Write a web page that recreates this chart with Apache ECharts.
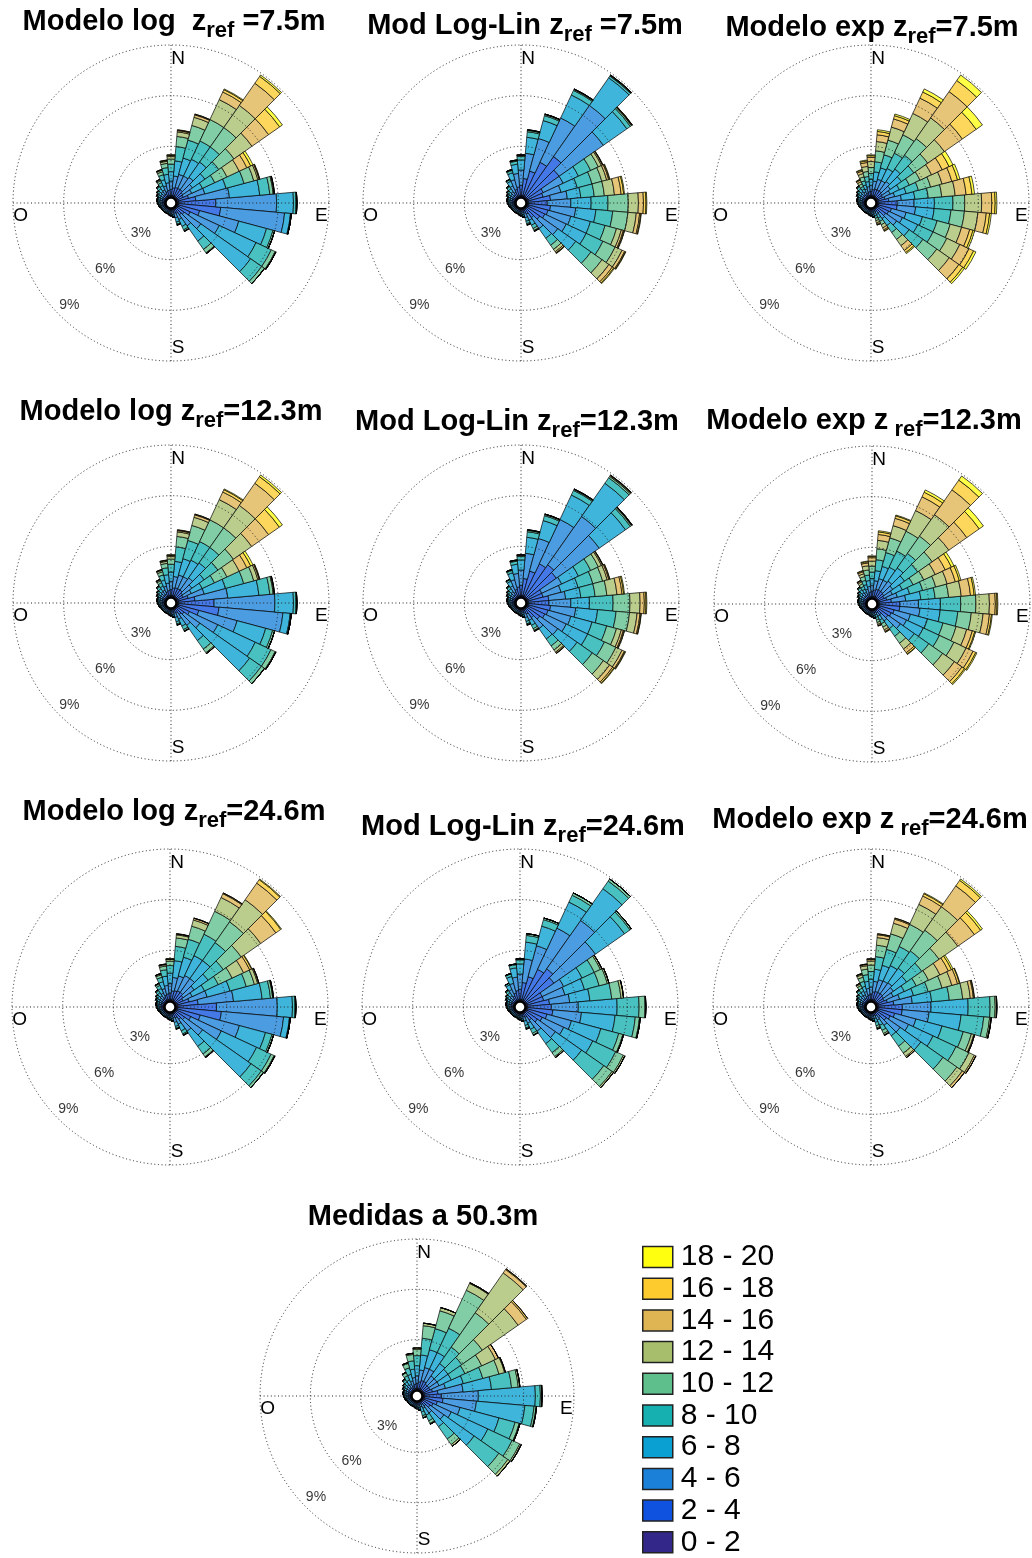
<!DOCTYPE html>
<html>
<head>
<meta charset="utf-8">
<script src="https://cdn.jsdelivr.net/npm/echarts@6/dist/echarts.min.js"></script>
<style>
  html, body { margin: 0; padding: 0; background: #fff; }
  #chart { width: 1032px; height: 1558px; }
</style>
</head>
<body>
<div id="chart"></div>
<script>
// 36 sectors of 10 deg, clockwise from N
const directions = ['0','10','20','30','40','50','60','70','80','90','100','110','120','130','140','150','160','170',
  '180','190','200','210','220','230','240','250','260','270','280','290','300','310','320','330','340','350'];
const speedBins = ['0 - 2','2 - 4','4 - 6','6 - 8','8 - 10','10 - 12','12 - 14','14 - 16','16 - 18','18 - 20'];
const ringTicks = [3, 6, 9];
const compassNames = { 0: 'N', 90: 'E', 180: 'S', 270: 'O' };

// sectors 170..320 deg: tiny calm bars, alike in all roses (% per speed bin)
const lightSectors = [
  [0.08,0.12,0.14,0.1,0.05,0.01],
  [0.07,0.1,0.11,0.08,0.03,0.01],
  [0.07,0.09,0.09,0.06,0.03,0.01],
  [0.06,0.08,0.08,0.05,0.03],
  [0.06,0.08,0.08,0.05,0.03],
  [0.06,0.08,0.08,0.05,0.03],
  [0.06,0.08,0.08,0.05,0.03],
  [0.06,0.08,0.08,0.05,0.03],
  [0.07,0.09,0.09,0.06,0.03,0.01],
  [0.07,0.1,0.11,0.08,0.03,0.01],
  [0.07,0.11,0.12,0.09,0.04,0.02],
  [0.07,0.12,0.13,0.1,0.05,0.03],
  [0.07,0.12,0.13,0.1,0.05,0.03],
  [0.07,0.13,0.16,0.13,0.07,0.03,0.01],
  [0.07,0.14,0.18,0.16,0.1,0.04,0.01],
  [0.08,0.17,0.22,0.21,0.14,0.06,0.02]
];

// rows for 330,340,350,0,10,...,160 deg ; each row = % per speed bin (0-2 ... 18-20)
const logRef75 = [
  [0.08,0.18,0.25,0.27,0.2,0.12,0.06,0.03,0.01],
  [0.1,0.25,0.35,0.38,0.3,0.18,0.09,0.03,0.02],
  [0.1,0.3,0.45,0.5,0.4,0.25,0.12,0.05,0.02,0.01],
  [0.1,0.35,0.5,0.55,0.45,0.3,0.15,0.06,0.03,0.01],
  [0.1,0.45,0.7,0.9,0.85,0.6,0.27,0.08,0.03,0.02],
  [0.1,0.5,0.8,1.0,1.1,0.9,0.5,0.15,0.04,0.01],
  [0.1,0.5,0.8,1.1,1.2,1.4,1.3,0.5,0.15,0.05],
  [0.1,0.5,0.9,1.1,1.1,1.4,1.6,1.6,0.5,0.1],
  [0.1,0.4,0.7,0.9,1.0,1.1,1.3,1.2,0.8,0.2],
  [0.1,0.35,0.55,0.7,0.8,0.8,0.8,0.5,0.25,0.15],
  [0.12,0.6,1.0,1.3,1.1,0.6,0.25,0.08,0.03,0.02],
  [0.12,1.0,2.0,1.8,0.6,0.2,0.05,0.02,0.01],
  [0.1,2.2,3.6,1.0,0.15,0.05],
  [0.1,2.5,3.8,0.35,0.05],
  [0.1,1.3,2.4,1.7,0.4,0.1],
  [0.1,0.8,1.9,2.4,1.0,0.25,0.05],
  [0.1,0.5,1.2,3.6,0.8,0.2],
  [0.1,0.4,0.8,1.1,0.6,0.25,0.05],
  [0.08,0.25,0.4,0.45,0.22,0.08,0.02],
  [0.08,0.2,0.28,0.26,0.12,0.05,0.01]
];
const linRef75 = [
  [0.07,0.28,0.42,0.3,0.1,0.03],
  [0.08,0.4,0.6,0.42,0.14,0.04,0.01,0.01],
  [0.1,0.5,0.8,0.55,0.18,0.05,0.01,0.01],
  [0.1,0.6,0.9,0.6,0.2,0.06,0.02,0.01,0.01],
  [0.1,1.0,1.5,0.95,0.33,0.08,0.02,0.01,0.01],
  [0.1,1.5,2.0,1.1,0.3,0.07,0.02,0.01],
  [0.1,2.2,2.9,1.5,0.3,0.06,0.02,0.01,0.01],
  [0.1,2.9,3.7,2.0,0.12,0.04,0.02,0.01,0.01],
  [0.1,2.3,3.2,1.7,0.25,0.08,0.03,0.02,0.01,0.01],
  [0.1,1.0,1.3,1.0,0.8,0.5,0.2,0.07,0.02,0.01],
  [0.1,0.9,1.1,1.0,0.9,0.6,0.3,0.12,0.05,0.03],
  [0.1,1.3,1.0,0.8,0.8,0.6,0.6,0.4,0.15,0.05],
  [0.1,1.1,1.4,1.2,1.0,1.2,0.6,0.3,0.15,0.05],
  [0.1,1.3,1.5,1.2,1.0,0.9,0.5,0.2,0.07,0.03],
  [0.1,1.2,1.4,1.2,0.9,0.7,0.3,0.12,0.05,0.03],
  [0.1,1.1,1.4,1.3,1.1,0.8,0.45,0.17,0.05,0.03],
  [0.1,0.9,1.3,1.3,1.1,0.8,0.5,0.25,0.1,0.05],
  [0.1,0.6,0.8,0.7,0.5,0.3,0.17,0.08,0.03,0.02],
  [0.08,0.3,0.4,0.32,0.22,0.12,0.04,0.02],
  [0.08,0.2,0.27,0.22,0.14,0.06,0.02,0.01]
];
const expRef75 = [
  [0.07,0.13,0.18,0.18,0.17,0.17,0.14,0.1,0.04,0.02],
  [0.08,0.18,0.25,0.25,0.25,0.24,0.2,0.15,0.07,0.03],
  [0.1,0.22,0.3,0.3,0.3,0.3,0.3,0.23,0.1,0.05],
  [0.1,0.25,0.35,0.35,0.35,0.35,0.35,0.25,0.1,0.05],
  [0.1,0.35,0.5,0.55,0.6,0.65,0.55,0.4,0.2,0.1],
  [0.1,0.4,0.6,0.7,0.8,0.9,0.8,0.5,0.2,0.1],
  [0.1,0.4,0.6,0.8,1.0,1.2,1.4,1.0,0.4,0.2],
  [0.1,0.4,0.7,0.9,1.0,1.2,1.5,1.9,0.8,0.4],
  [0.1,0.35,0.6,0.8,0.9,1.0,1.2,1.3,1.0,0.45],
  [0.1,0.3,0.5,0.6,0.65,0.7,0.75,0.7,0.45,0.25],
  [0.1,0.4,0.6,0.7,0.75,0.75,0.7,0.6,0.35,0.15],
  [0.1,0.6,0.75,0.8,0.8,0.8,0.8,0.65,0.35,0.15],
  [0.1,1.1,1.0,1.2,1.1,0.7,1.0,0.6,0.2,0.1],
  [0.1,1.1,1.1,1.1,1.0,0.8,0.8,0.5,0.2,0.1],
  [0.1,0.8,0.9,1.0,0.9,0.8,0.7,0.5,0.2,0.1],
  [0.1,0.7,0.9,1.0,1.0,0.9,0.85,0.6,0.3,0.15],
  [0.1,0.6,0.8,0.9,1.0,1.0,0.9,0.7,0.28,0.12],
  [0.08,0.3,0.4,0.5,0.5,0.5,0.45,0.35,0.15,0.07],
  [0.06,0.15,0.2,0.22,0.22,0.22,0.2,0.13,0.07,0.03],
  [0.06,0.1,0.13,0.15,0.15,0.14,0.13,0.09,0.04,0.01]
];
const logRef123 = [
  [0.08,0.17,0.24,0.27,0.21,0.13,0.06,0.03,0.01],
  [0.1,0.24,0.34,0.38,0.31,0.19,0.09,0.03,0.02],
  [0.1,0.29,0.44,0.5,0.41,0.26,0.12,0.05,0.02,0.01],
  [0.1,0.34,0.49,0.55,0.46,0.31,0.15,0.06,0.03,0.01],
  [0.1,0.44,0.68,0.9,0.86,0.62,0.27,0.08,0.03,0.02],
  [0.1,0.48,0.78,1.0,1.12,0.92,0.5,0.15,0.04,0.01],
  [0.1,0.48,0.78,1.08,1.22,1.42,1.32,0.5,0.15,0.05],
  [0.1,0.48,0.88,1.08,1.12,1.42,1.62,1.6,0.48,0.12],
  [0.1,0.38,0.68,0.88,1.0,1.12,1.32,1.22,0.78,0.22],
  [0.1,0.34,0.54,0.7,0.8,0.82,0.8,0.5,0.25,0.15],
  [0.12,0.58,0.98,1.3,1.12,0.62,0.25,0.08,0.03,0.02],
  [0.12,0.95,1.95,1.85,0.65,0.2,0.05,0.02,0.01],
  [0.1,2.1,3.6,1.1,0.15,0.05],
  [0.1,2.4,3.8,0.43,0.06,0.01],
  [0.1,1.25,2.35,1.75,0.43,0.12],
  [0.1,0.75,1.85,2.45,1.03,0.27,0.05],
  [0.1,0.48,1.15,3.6,0.85,0.22],
  [0.1,0.38,0.78,1.1,0.62,0.26,0.06],
  [0.08,0.24,0.39,0.45,0.23,0.09,0.02],
  [0.08,0.19,0.27,0.26,0.13,0.06,0.01]
];
const linRef123 = [
  [0.07,0.28,0.42,0.3,0.1,0.03],
  [0.08,0.4,0.6,0.42,0.14,0.04,0.01,0.01],
  [0.1,0.5,0.8,0.55,0.18,0.05,0.01,0.01],
  [0.1,0.6,0.9,0.6,0.2,0.06,0.02,0.01,0.01],
  [0.1,1.0,1.5,0.95,0.33,0.08,0.02,0.01,0.01],
  [0.1,1.5,2.0,1.1,0.3,0.07,0.02,0.01],
  [0.1,2.1,2.9,1.6,0.3,0.06,0.02,0.01,0.01],
  [0.1,2.3,3.5,2.4,0.4,0.1,0.05,0.03,0.01,0.01],
  [0.1,2.1,3.1,1.9,0.35,0.08,0.03,0.02,0.01],
  [0.1,0.9,1.3,1.1,0.8,0.5,0.2,0.07,0.02,0.01],
  [0.1,0.9,1.1,1.05,0.9,0.6,0.28,0.1,0.05,0.02],
  [0.1,1.2,1.0,0.9,0.85,0.7,0.6,0.3,0.1,0.05],
  [0.1,1.2,1.3,1.1,1.4,1.0,0.6,0.25,0.1,0.05],
  [0.1,1.3,1.5,1.3,1.1,0.8,0.45,0.17,0.06,0.02],
  [0.1,1.2,1.4,1.3,0.9,0.6,0.3,0.12,0.05,0.03],
  [0.1,1.1,1.4,1.4,1.1,0.75,0.4,0.15,0.05,0.03],
  [0.1,0.9,1.3,1.4,1.1,0.8,0.45,0.22,0.09,0.04],
  [0.1,0.6,0.8,0.75,0.5,0.3,0.15,0.07,0.02,0.01],
  [0.08,0.3,0.4,0.33,0.22,0.11,0.04,0.02],
  [0.08,0.2,0.27,0.23,0.14,0.05,0.02,0.01]
];
const expRef123 = [
  [0.07,0.15,0.2,0.2,0.18,0.17,0.12,0.07,0.03,0.01],
  [0.08,0.2,0.28,0.28,0.26,0.23,0.17,0.12,0.05,0.03],
  [0.1,0.25,0.34,0.35,0.33,0.3,0.25,0.17,0.07,0.04],
  [0.1,0.28,0.38,0.4,0.38,0.35,0.3,0.2,0.07,0.04],
  [0.1,0.38,0.55,0.6,0.65,0.65,0.5,0.35,0.15,0.07],
  [0.1,0.45,0.65,0.75,0.85,0.9,0.75,0.45,0.15,0.05],
  [0.1,0.45,0.65,0.85,1.05,1.3,1.35,0.9,0.3,0.15],
  [0.1,0.45,0.75,0.95,1.05,1.25,1.55,1.8,0.7,0.3],
  [0.1,0.4,0.65,0.85,0.95,1.05,1.2,1.3,0.9,0.3],
  [0.1,0.33,0.55,0.65,0.7,0.7,0.75,0.65,0.4,0.17],
  [0.1,0.45,0.65,0.75,0.8,0.8,0.7,0.5,0.25,0.1],
  [0.1,0.7,0.85,0.9,0.85,0.8,0.75,0.55,0.22,0.08],
  [0.1,1.2,1.1,1.3,1.2,0.9,0.8,0.35,0.1,0.05],
  [0.1,1.2,1.2,1.2,1.05,0.8,0.7,0.38,0.12,0.05],
  [0.1,0.9,1.0,1.05,0.95,0.8,0.65,0.35,0.15,0.05],
  [0.1,0.8,1.0,1.1,1.05,0.95,0.8,0.45,0.18,0.07],
  [0.1,0.7,0.9,1.0,1.05,1.0,0.85,0.55,0.18,0.07],
  [0.08,0.35,0.45,0.55,0.55,0.5,0.42,0.27,0.1,0.03],
  [0.06,0.17,0.22,0.25,0.24,0.22,0.18,0.1,0.04,0.02],
  [0.06,0.11,0.14,0.16,0.16,0.15,0.12,0.07,0.02,0.01]
];
const logRef246 = [
  [0.08,0.2,0.28,0.3,0.2,0.1,0.03,0.01],
  [0.1,0.28,0.4,0.42,0.27,0.15,0.06,0.02],
  [0.1,0.33,0.5,0.55,0.38,0.22,0.08,0.03,0.01],
  [0.1,0.38,0.55,0.62,0.45,0.26,0.1,0.03,0.01],
  [0.1,0.5,0.8,1.0,0.85,0.5,0.18,0.05,0.02],
  [0.1,0.55,0.9,1.15,1.1,0.8,0.38,0.1,0.02],
  [0.1,0.6,1.0,1.3,1.4,1.5,0.9,0.25,0.05],
  [0.1,0.6,1.0,1.3,1.3,1.5,1.6,1.2,0.25,0.05],
  [0.1,0.5,0.8,1.0,1.1,1.3,1.4,1.1,0.35,0.05],
  [0.1,0.4,0.6,0.8,0.9,0.9,0.75,0.4,0.12,0.03],
  [0.12,0.7,1.1,1.4,1.0,0.5,0.2,0.06,0.02],
  [0.12,1.2,2.1,1.7,0.5,0.13,0.03,0.02],
  [0.1,2.3,3.6,0.9,0.15,0.05],
  [0.1,2.6,3.7,0.35,0.05],
  [0.1,1.4,2.4,1.6,0.4,0.1],
  [0.1,0.9,2.0,2.3,0.95,0.2,0.05],
  [0.1,0.6,1.3,3.5,0.75,0.15],
  [0.1,0.45,0.85,1.1,0.55,0.2,0.05],
  [0.08,0.28,0.42,0.43,0.2,0.07,0.02],
  [0.08,0.22,0.3,0.24,0.11,0.04,0.01]
];
const linRef246 = [
  [0.07,0.3,0.42,0.3,0.1,0.01],
  [0.08,0.42,0.6,0.42,0.15,0.03],
  [0.1,0.52,0.8,0.55,0.19,0.04],
  [0.1,0.6,0.9,0.6,0.24,0.06],
  [0.1,1.0,1.4,1.0,0.4,0.1],
  [0.1,1.4,1.9,1.2,0.4,0.1],
  [0.1,2.0,2.7,1.7,0.45,0.15],
  [0.1,2.3,3.5,2.3,0.55,0.15],
  [0.1,2.0,3.0,2.1,0.4,0.1],
  [0.1,1.0,1.4,1.2,0.8,0.4,0.1],
  [0.1,1.0,1.3,1.2,0.9,0.5,0.1],
  [0.1,1.3,1.2,1.2,1.3,0.55,0.15],
  [0.1,1.4,1.6,2.3,1.3,0.35,0.05],
  [0.1,1.5,1.7,2.0,1.2,0.25,0.05],
  [0.1,1.2,1.5,1.8,1.1,0.25,0.05],
  [0.1,1.0,1.4,1.9,1.5,0.5,0.1],
  [0.1,0.8,1.3,1.9,1.6,0.6,0.1],
  [0.1,0.5,0.8,0.9,0.65,0.28,0.07],
  [0.08,0.25,0.38,0.4,0.26,0.11,0.02],
  [0.08,0.18,0.26,0.26,0.15,0.06,0.01]
];
const expRef246 = [
  [0.07,0.16,0.22,0.23,0.2,0.17,0.1,0.04,0.01],
  [0.08,0.22,0.3,0.32,0.3,0.25,0.15,0.06,0.02],
  [0.1,0.27,0.38,0.42,0.4,0.33,0.2,0.07,0.03],
  [0.1,0.3,0.42,0.48,0.45,0.38,0.24,0.09,0.04],
  [0.1,0.45,0.62,0.72,0.75,0.68,0.45,0.17,0.05,0.01],
  [0.1,0.5,0.72,0.88,0.98,0.95,0.65,0.25,0.06,0.01],
  [0.1,0.5,0.75,1.0,1.25,1.45,1.3,0.55,0.15,0.05],
  [0.1,0.5,0.8,1.05,1.25,1.5,1.7,1.5,0.4,0.1],
  [0.1,0.45,0.72,0.95,1.1,1.25,1.35,1.2,0.45,0.13],
  [0.1,0.4,0.6,0.72,0.78,0.8,0.75,0.55,0.2,0.1],
  [0.1,0.55,0.75,0.85,0.9,0.85,0.6,0.35,0.12,0.03],
  [0.1,0.9,1.1,1.15,1.05,0.8,0.45,0.18,0.05,0.02],
  [0.1,1.4,1.7,2.2,1.3,0.3,0.08,0.02],
  [0.1,1.4,1.6,1.9,1.35,0.35,0.08,0.02],
  [0.1,1.0,1.3,1.6,1.3,0.5,0.15,0.05],
  [0.1,0.8,1.2,1.6,1.5,0.85,0.35,0.1],
  [0.1,0.65,1.0,1.5,1.6,1.0,0.4,0.15],
  [0.08,0.35,0.55,0.75,0.75,0.5,0.24,0.08],
  [0.06,0.17,0.27,0.35,0.33,0.2,0.09,0.03],
  [0.06,0.12,0.18,0.23,0.21,0.12,0.06,0.02]
];
const measured503 = [
  [0.06,0.14,0.22,0.28,0.28,0.19,0.03],
  [0.08,0.2,0.3,0.4,0.4,0.27,0.05],
  [0.1,0.25,0.4,0.5,0.5,0.38,0.07],
  [0.1,0.3,0.45,0.6,0.6,0.38,0.07],
  [0.1,0.4,0.7,0.9,1.0,0.75,0.15],
  [0.1,0.5,0.8,1.1,1.3,1.1,0.2],
  [0.1,0.5,0.8,1.1,1.6,2.5,0.45,0.05],
  [0.1,0.4,0.6,0.9,1.2,2.5,2.9,0.25,0.05],
  [0.1,0.4,0.6,0.8,1.0,1.5,2.6,0.6,0.1],
  [0.1,0.4,0.6,0.8,0.9,1.1,0.9,0.2],
  [0.1,0.5,0.8,1.1,1.2,1.0,0.35,0.05],
  [0.1,0.8,1.5,1.7,1.2,0.4,0.1],
  [0.1,1.0,2.2,3.4,0.3,0.08,0.02],
  [0.1,1.1,2.0,2.9,0.55,0.12,0.03],
  [0.1,0.8,1.4,2.4,1.0,0.25,0.05],
  [0.1,0.6,1.2,2.4,1.6,0.5,0.1],
  [0.1,0.5,1.0,2.2,1.8,0.65,0.15],
  [0.08,0.3,0.5,1.0,0.9,0.4,0.12],
  [0.06,0.15,0.25,0.45,0.37,0.17,0.05],
  [0.06,0.1,0.17,0.3,0.23,0.11,0.03]
];

const roseData = [logRef75, linRef75, expRef75, logRef123, linRef123, expRef123,
  logRef246, linRef246, expRef246, measured503];
const titleParts = [
  ['Modelo log  z', 'ref', ' =7.5m'], ['Mod Log-Lin z', 'ref', ' =7.5m'], ['Modelo exp z', 'ref', '=7.5m'],
  ['Modelo log z', 'ref', '=12.3m'], ['Mod Log-Lin z', 'ref', '=12.3m'], ['Modelo exp z', ' ref', '=12.3m'],
  ['Modelo log z', 'ref', '=24.6m'], ['Mod Log-Lin z', 'ref', '=24.6m'], ['Modelo exp z', ' ref', '=24.6m'],
  ['Medidas a 50.3m']
];

// layout (px)
const roseCenters = [[171,203],[521,203],[871,203],[171,603],[521,603],[872,604],
  [170,1007],[520,1007],[871,1007],[417,1396]];
const roseRadius = [158,158,158,158,158,158,158,158,158,157];
const titlePos = [[174,7],[525,11],[872,13],[171,397],[517,407],[864,406],
  [174,797],[523,812],[870,805],[423,1202]];
const binColors = ['#33288a','#1052e0','#1a80d8','#0aa0d2','#16b0b0','#5ebf8c','#a7bf6c','#dfb453','#fdcb2e','#ffff10'];
const FONT = "'Liberation Sans', Arial, Helvetica, sans-serif";
const GRID_LINE = { color: '#222', width: 1, type: [1, 2.6] };

function lighten(hex, t) {
  const n = parseInt(hex.slice(1), 16);
  const f = c => Math.round(c + (255 - c) * t);
  return 'rgb(' + f((n >> 16) & 255) + ',' + f((n >> 8) & 255) + ',' + f(n & 255) + ')';
}

// rows stored as 330..160 ; reorder to 0..350
function fullRose(rows) {
  return rows.slice(3).concat(lightSectors, rows.slice(0, 3));
}

const chart = echarts.init(document.getElementById('chart'));

const polar = [], angleAxis = [], radiusAxis = [], series = [], title = [], graphic = [];

roseData.forEach((rows, r) => {
  const c = roseCenters[r];
  const rad = [6, roseRadius[r]];
  // polar for the bars
  polar.push({ center: c, radius: rad });
  angleAxis.push({ polarIndex: 2 * r, type: 'category', data: directions, startAngle: 95, clockwise: true, show: false });
  radiusAxis.push({ polarIndex: 2 * r, type: 'value', min: 0, max: 9, show: false });
  // polar for the dotted grid and labels
  polar.push({ center: c, radius: rad });
  angleAxis.push({
    polarIndex: 2 * r + 1, type: 'value', min: 0, max: 360, interval: 90,
    startAngle: 90, clockwise: true, z: 5,
    axisLine: { show: false }, axisTick: { show: false },
    splitLine: { show: true, lineStyle: GRID_LINE },
    axisLabel: {
      margin: -23,
      formatter: v => compassNames[v] !== undefined && v !== 360 ? '{' + 'k' + v + '|' + compassNames[v] + '}' : '',
      rich: {
        k0: { fontSize: 19, fontFamily: FONT, color: '#000', padding: [0, 0, 0, 14] },
        k90: { fontSize: 19, fontFamily: FONT, color: '#000', padding: [26, 0, 0, 9] },
        k180: { fontSize: 19, fontFamily: FONT, color: '#000', padding: [0, 0, 0, 14] },
        k270: { fontSize: 19, fontFamily: FONT, color: '#000', padding: [26, 8, 0, 0] }
      }
    }
  });
  radiusAxis.push({
    polarIndex: 2 * r + 1, type: 'value', min: 0, max: 9, interval: 3, z: 5,
    axisLine: { show: false }, axisTick: { show: false }, axisLabel: { show: false },
    splitLine: { show: true, lineStyle: GRID_LINE }
  });

  const full = fullRose(rows);
  speedBins.forEach((name, b) => {
    series.push({
      type: 'bar', coordinateSystem: 'polar', polarIndex: 2 * r,
      name: name, stack: 'rose' + r, barCategoryGap: '0%', silent: true,
      itemStyle: { color: lighten(binColors[b], 0.22), borderColor: '#000', borderWidth: 0.7 },
      data: full.map(row => row[b] || 0)
    });
  });
  series.push({
    type: 'scatter', coordinateSystem: 'polar', polarIndex: 2 * r + 1,
    symbolSize: 0, silent: true, z: 10,
    data: ringTicks.map(t => [t, 225]),
    label: { show: true, position: 'inside', offset: [10, -10], formatter: p => p.value[0] + '%',
      fontSize: 14, fontFamily: FONT, color: '#000' }
  });

  const tp = titleParts[r];
  const txt = tp.length === 1 ? '{m|' + tp[0] + '}' : '{m|' + tp[0] + '}{s|' + tp[1] + '}{m|' + tp[2] + '}';
  title.push({
    text: txt, left: titlePos[r][0], top: titlePos[r][1], textAlign: 'center', padding: 0,
    textStyle: {
      rich: {
        m: { fontSize: 29, fontWeight: 'bold', fontFamily: FONT, color: '#000', verticalAlign: 'top' },
        s: { fontSize: 22, fontWeight: 'bold', fontFamily: FONT, color: '#000', verticalAlign: 'top', padding: [13, 0, 0, 0] }
      }
    }
  });

  graphic.push({
    type: 'circle', silent: true, z: 100,
    shape: { cx: c[0], cy: c[1], r: 5.5 },
    style: { fill: '#fff', stroke: '#000', lineWidth: 2.5 }
  });
});

chart.setOption({
  animation: false,
  backgroundColor: '#fff',
  title: title,
  polar: polar,
  angleAxis: angleAxis,
  radiusAxis: radiusAxis,
  legend: {
    orient: 'vertical', left: 642, top: 1242, height: 320, padding: 0,
    itemWidth: 30, itemHeight: 21, itemGap: 1.7,
    icon: 'rect', selectedMode: false,
    textStyle: { fontSize: 30, fontFamily: FONT, color: '#000', padding: [0, 0, 0, 3] },
    data: speedBins.map((n, b) => ({ name: n, itemStyle: { color: binColors[b], borderColor: '#222', borderWidth: 1.5 } })).reverse()
  },
  graphic: graphic,
  series: series
});
</script>
</body>
</html>
